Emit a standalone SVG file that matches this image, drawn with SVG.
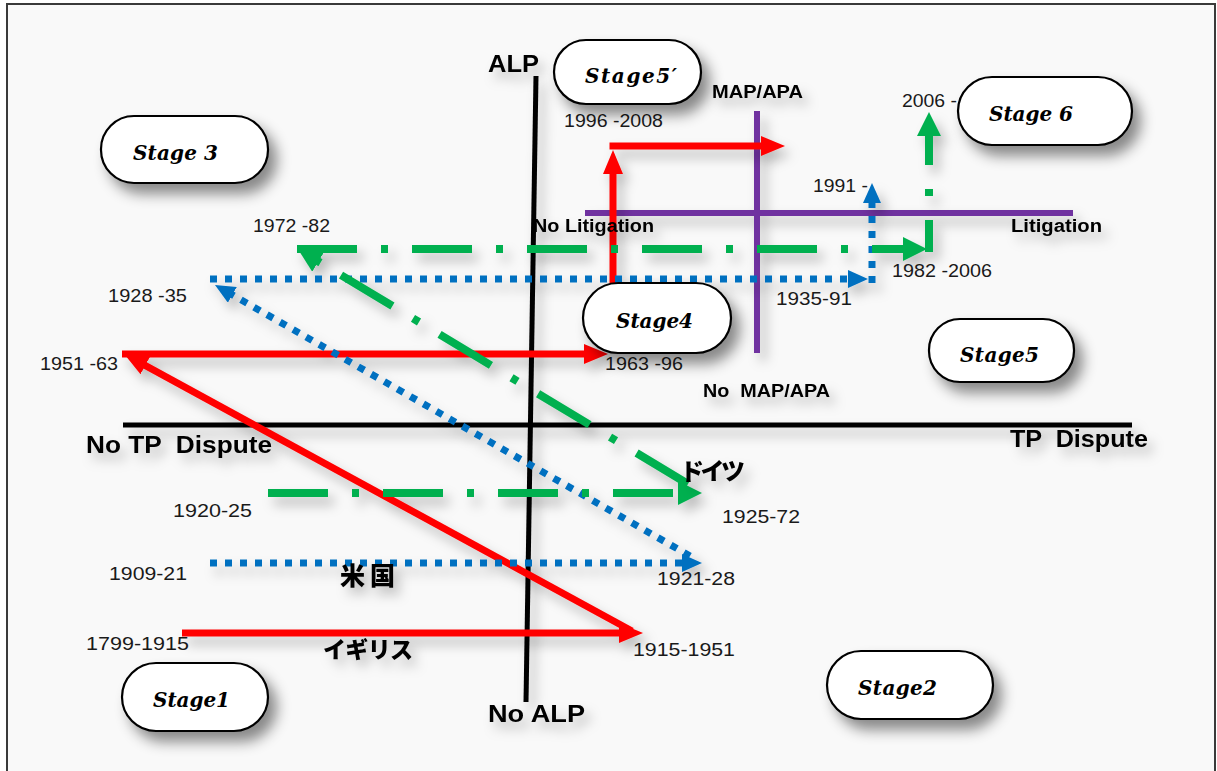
<svg xmlns="http://www.w3.org/2000/svg" width="1217" height="771" viewBox="0 0 1217 771">
<style>
.num{font-family:"Liberation Sans",Arial,sans-serif;font-size:18px;fill:#1a1a1a}
.lbl{font-family:"Liberation Sans",Arial,sans-serif;font-weight:bold;fill:#000}
.jp{font-family:"Noto Sans CJK JP",sans-serif;font-weight:900;fill:#000}
.stage rect{fill:#fff;stroke:#000;stroke-width:2.2}
.stage text{font-family:"DejaVu Serif",serif;font-weight:bold;font-style:italic;font-size:20px;fill:#000}
.red{stroke:#ff0000;stroke-width:7;fill:none}
.blue{stroke:#0070c0;stroke-width:7;stroke-dasharray:7 8;fill:none}
.green{stroke:#00b050;stroke-width:8;stroke-dasharray:60 24 7 24;fill:none}
.axis{stroke:#000;stroke-width:5}
.purple{stroke:#7030a0;stroke-width:6}
</style>
<defs>
<filter id="psh" x="-30%" y="-30%" width="170%" height="190%">
<feDropShadow dx="8" dy="10" stdDeviation="7" flood-color="#000" flood-opacity="0.45"/>
</filter>
<filter id="tsh" x="-20%" y="-50%" width="150%" height="250%">
<feDropShadow dx="6" dy="8" stdDeviation="6" flood-color="#000" flood-opacity="0.25"/>
</filter>
<marker id="ar" markerUnits="userSpaceOnUse" markerWidth="30" markerHeight="30" refX="6" refY="10" orient="auto">
<path d="M0,0 L24,10 L0,20 z" fill="#ff0000"/>
</marker>
<marker id="ab" markerUnits="userSpaceOnUse" markerWidth="30" markerHeight="30" refX="5" refY="9" orient="auto">
<path d="M0,0 L20,9 L0,18 z" fill="#0070c0"/>
</marker>
<marker id="ag" markerUnits="userSpaceOnUse" markerWidth="30" markerHeight="30" refX="4" refY="12" orient="auto">
<path d="M0,0 L24,12 L0,24 z" fill="#00b050"/>
</marker>
</defs>
<rect x="0" y="0" width="1217" height="771" fill="#fff"/>
<rect x="7" y="4" width="1208" height="790" fill="#f9f9f9" stroke="#3a3a3a" stroke-width="2"/>

<g id="axes" filter="url(#tsh)">
<line class="axis" x1="536" y1="76" x2="526" y2="702"/>
<line class="axis" x1="123" y1="425" x2="1132" y2="425"/>
<line class="purple" x1="585" y1="213" x2="1073" y2="213"/>
<line class="purple" x1="757" y1="111" x2="757" y2="353"/>
</g>

<g id="connectors" filter="url(#tsh)">
<line class="red" x1="182" y1="633" x2="625" y2="633" marker-end="url(#ar)"/>
<line class="red" x1="632" y1="631" x2="140" y2="362.6" marker-end="url(#ar)"/>
<line class="red" x1="122" y1="354" x2="590" y2="354" marker-end="url(#ar)"/>
<line class="red" x1="613" y1="283" x2="613" y2="168" marker-end="url(#ar)"/>
<line class="red" x1="609.5" y1="146" x2="767" y2="146" marker-end="url(#ar)"/>
<line class="blue" x1="210" y1="563" x2="687" y2="563" marker-end="url(#ab)"/>
<line class="blue" x1="690" y1="556" x2="228" y2="292.4" marker-end="url(#ab)"/>
<line class="blue" x1="210" y1="279" x2="853" y2="279" marker-end="url(#ab)"/>
<line class="blue" x1="872" y1="283" x2="872" y2="198" marker-end="url(#ab)"/>
<line class="green" x1="268" y1="493" x2="682" y2="493" marker-end="url(#ag)"/>
<line class="green" x1="688" y1="484" x2="315" y2="259.4" marker-end="url(#ag)"/>
<line class="green" x1="297" y1="249" x2="907" y2="249" marker-end="url(#ag)"/>
<line class="green" x1="929" y1="252" x2="929" y2="132" style="stroke-dashoffset:28" marker-end="url(#ag)"/>
</g>

<g id="labels" filter="url(#tsh)">
<text class="lbl" x="488" y="72" font-size="24" textLength="51" lengthAdjust="spacingAndGlyphs">ALP</text>
<text class="lbl" x="488" y="722" font-size="24" textLength="97" lengthAdjust="spacingAndGlyphs">No ALP</text>
<text class="lbl" x="86" y="453" font-size="23" textLength="186" lengthAdjust="spacingAndGlyphs" xml:space="preserve">No TP  Dispute</text>
<text class="lbl" x="1010" y="447" font-size="23" textLength="138" lengthAdjust="spacingAndGlyphs" xml:space="preserve">TP  Dispute</text>
<text class="lbl" x="712" y="98" font-size="18" textLength="91" lengthAdjust="spacingAndGlyphs">MAP/APA</text>
<text class="lbl" x="533" y="232" font-size="18" textLength="121" lengthAdjust="spacingAndGlyphs">No Litigation</text>
<text class="lbl" x="1011" y="232" font-size="18" textLength="91" lengthAdjust="spacingAndGlyphs">Litigation</text>
<text class="lbl" x="703" y="397" font-size="18" textLength="127" lengthAdjust="spacingAndGlyphs" xml:space="preserve">No  MAP/APA</text>
<text class="jp" x="680" y="480" font-size="24" textLength="65">ドイツ</text>
<text class="jp" x="340" y="585" font-size="25" textLength="55">米国</text>
<text class="jp" x="323" y="658" font-size="23" textLength="90">イギリス</text>
</g>

<g id="dates">
<text class="num" x="253" y="232" textLength="77" lengthAdjust="spacingAndGlyphs">1972 -82</text>
<text class="num" x="108" y="302" textLength="79" lengthAdjust="spacingAndGlyphs">1928 -35</text>
<text class="num" x="40" y="370" textLength="78" lengthAdjust="spacingAndGlyphs">1951 -63</text>
<text class="num" x="173" y="517" textLength="79" lengthAdjust="spacingAndGlyphs">1920-25</text>
<text class="num" x="109" y="580" textLength="78" lengthAdjust="spacingAndGlyphs">1909-21</text>
<text class="num" x="86" y="650" textLength="103" lengthAdjust="spacingAndGlyphs">1799-1915</text>
<text class="num" x="722" y="523" textLength="78" lengthAdjust="spacingAndGlyphs">1925-72</text>
<text class="num" x="657" y="585" textLength="78" lengthAdjust="spacingAndGlyphs">1921-28</text>
<text class="num" x="633" y="656" textLength="102" lengthAdjust="spacingAndGlyphs">1915-1951</text>
<text class="num" x="605" y="370" textLength="78" lengthAdjust="spacingAndGlyphs">1963 -96</text>
<text class="num" x="776" y="305" textLength="76" lengthAdjust="spacingAndGlyphs">1935-91</text>
<text class="num" x="892" y="277" textLength="100" lengthAdjust="spacingAndGlyphs">1982 -2006</text>
<text class="num" x="813" y="192" textLength="55" lengthAdjust="spacingAndGlyphs">1991 -</text>
<text class="num" x="902" y="107" textLength="55" lengthAdjust="spacingAndGlyphs">2006 -</text>
<text class="num" x="564" y="127" textLength="99" lengthAdjust="spacingAndGlyphs">1996 -2008</text>
</g>

<g id="stage3" class="stage"><rect x="101" y="116" width="167" height="67" rx="33" filter="url(#psh)"/><text x="133" y="160" textLength="85">Stage 3</text></g>
<g id="stage5p" class="stage"><rect x="554" y="40" width="147" height="64" rx="32" filter="url(#psh)"/><text x="585" y="83" textLength="92">Stage5′</text></g>
<g id="stage6" class="stage"><rect x="958" y="77" width="174" height="68" rx="34" filter="url(#psh)"/><text x="989" y="121" textLength="84">Stage 6</text></g>
<g id="stage4" class="stage"><rect x="583" y="283" width="148" height="70" rx="35" filter="url(#psh)"/><text x="616" y="328" textLength="77">Stage4</text></g>
<g id="stage5" class="stage"><rect x="929" y="319" width="145" height="63" rx="31" filter="url(#psh)"/><text x="960" y="362" textLength="79">Stage5</text></g>
<g id="stage1" class="stage"><rect x="122" y="663" width="146" height="68" rx="34" filter="url(#psh)"/><text x="153" y="707" textLength="77">Stage1</text></g>
<g id="stage2" class="stage"><rect x="827" y="651" width="166" height="68" rx="34" filter="url(#psh)"/><text x="858" y="695" textLength="79">Stage2</text></g>
</svg>
